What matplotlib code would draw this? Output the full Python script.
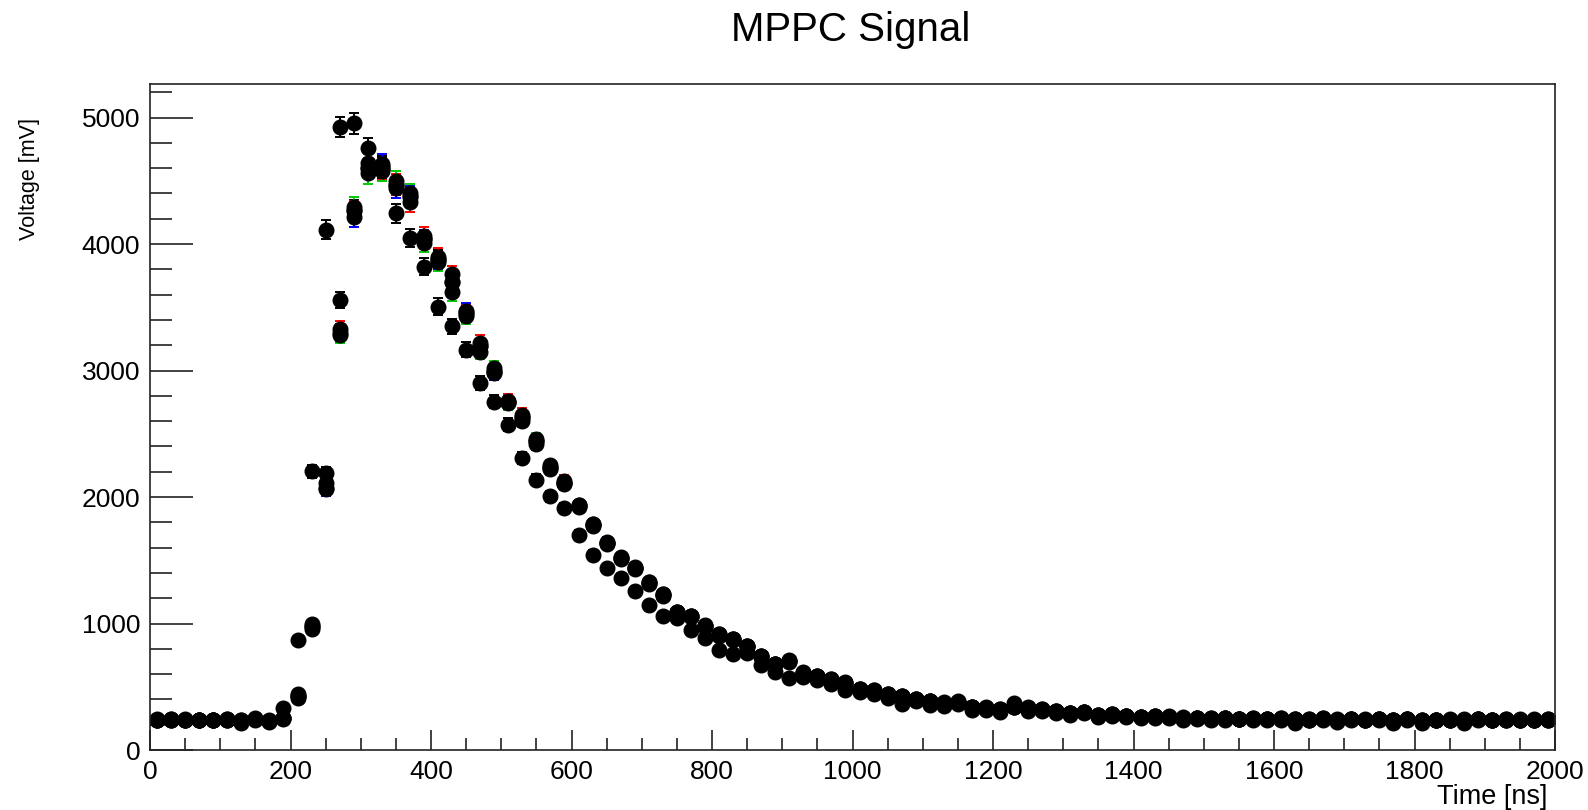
import matplotlib
matplotlib.use("Agg")
import matplotlib.pyplot as plt
from matplotlib.ticker import MultipleLocator

plt.rcParams['font.family'] = ['Liberation Sans', 'DejaVu Sans']

# sampling times [ns]
time_ns = list(range(10, 2000, 20))

# channel voltages [mV]
ch_black = [240, 242, 238, 240, 236, 240, 232, 244, 228, 252,
            425, 978, 2190, 3558, 4270, 4600, 4600, 4470, 4370, 4040,
            3880, 3700, 3450, 3190, 3000, 2755, 2624, 2445, 2240, 2110,
            1930, 1781, 1637, 1518, 1439, 1321, 1228, 1088, 1057, 978,
            912, 878, 820, 741, 680, 701, 610, 585, 557, 531,
            480, 472, 440, 428, 400, 386, 373, 382, 340, 333,
            322, 342, 333, 320, 306, 294, 302, 275, 282, 268,
            260, 266, 264, 256, 255, 250, 252, 246, 250, 246,
            250, 245, 242, 250, 240, 246, 240, 244, 236, 245,
            236, 238, 240, 240, 246, 240, 242, 240, 240, 242]

ch_red = [238, 240, 240, 238, 238, 236, 215, 242, 226, 248,
          440, 1000, 2110, 3330, 4260, 4600, 4590, 4470, 4330, 4060,
          3900, 3760, 3460, 3220, 2990, 2760, 2650, 2440, 2250, 2130,
          1935, 1790, 1640, 1525, 1445, 1330, 1232, 1092, 1060, 985,
          918, 875, 825, 745, 683, 710, 612, 585, 560, 535,
          480, 470, 440, 425, 402, 388, 375, 380, 342, 335,
          320, 340, 336, 322, 308, 296, 300, 276, 280, 266,
          258, 268, 262, 254, 256, 248, 250, 248, 248, 244,
          248, 240, 244, 248, 238, 244, 242, 242, 234, 246,
          232, 236, 238, 236, 244, 240, 240, 238, 242, 240]

ch_green = [242, 238, 242, 240, 236, 240, 235, 246, 230, 254,
            410, 960, 2070, 3280, 4290, 4560, 4580, 4500, 4400, 4010,
            3860, 3620, 3430, 3150, 3020, 2740, 2600, 2460, 2220, 2100,
            1920, 1770, 1630, 1510, 1432, 1315, 1220, 1080, 1050, 972,
            905, 870, 815, 738, 676, 696, 606, 580, 552, 528,
            476, 468, 436, 422, 398, 384, 370, 384, 338, 330,
            318, 344, 330, 318, 304, 292, 304, 272, 284, 270,
            262, 264, 266, 258, 254, 252, 254, 244, 252, 248,
            252, 246, 240, 252, 242, 248, 238, 246, 238, 244,
            238, 240, 242, 242, 248, 238, 244, 242, 238, 244]

ch_blue = [240, 244, 240, 236, 238, 242, 230, 240, 222, 250,
           425, 975, 2060, 3300, 4210, 4640, 4630, 4440, 4380, 4040,
           3870, 3700, 3470, 3190, 2980, 2750, 2630, 2420, 2230, 2110,
           1940, 1785, 1645, 1520, 1440, 1325, 1230, 1090, 1058, 980,
           915, 880, 822, 744, 682, 704, 614, 588, 558, 533,
           482, 474, 442, 430, 401, 387, 376, 381, 342, 336,
           324, 340, 334, 321, 307, 295, 301, 277, 281, 267,
           259, 265, 263, 255, 256, 249, 251, 247, 249, 245,
           249, 244, 241, 249, 239, 245, 241, 243, 235, 244,
           235, 237, 239, 239, 245, 239, 241, 239, 241, 241]

# the early pulse (black only)
ch_early = [240, 240, 240, 240, 240, 245, 238, 250, 240, 330,
            873, 2202, 4111, 4925, 4954, 4756, 4620, 4243, 4046, 3822,
            3506, 3348, 3164, 2900, 2755, 2571, 2308, 2137, 2005, 1913,
            1702, 1544, 1439, 1360, 1254, 1149, 1057, 1040, 952, 886,
            790, 760, 770, 675, 615, 570, 575, 555, 520, 478,
            455, 440, 410, 365, 390, 355, 350, 360, 320, 318,
            300, 370, 310, 310, 290, 280, 290, 262, 270, 258,
            250, 255, 250, 240, 245, 240, 238, 242, 236, 240,
            238, 215, 240, 236, 220, 240, 238, 236, 210, 238,
            215, 236, 238, 215, 240, 236, 238, 240, 236, 240]

# errors [mV]
err_main = [15] * 10 + [22, 28, 50, 65, 78, 82, 82, 80, 78, 72,
                        70, 68, 65, 60, 55, 52, 50, 48, 45, 42,
                        40, 38, 36, 34, 32, 30, 29, 27, 26, 25,
                        24, 23, 22, 21, 20, 20, 19, 19, 18, 18] + [16] * 50
err_early = [15] * 10 + [25, 50, 75, 82, 82, 80, 78, 75, 72, 68,
                         65, 62, 60, 55, 52, 50, 48, 45, 42, 40,
                         38, 35, 33, 32, 30, 28, 27, 26, 25, 24,
                         22, 22, 22, 20, 20, 19, 19, 18, 18, 17] + [15] * 50

fig = plt.figure(figsize=(15.88, 8.10), dpi=100)
ax = fig.add_axes([150 / 1588, 1 - 750 / 810, 1405 / 1588, 666 / 810])

series = [(ch_early, err_early, 'black'),
          (ch_black, err_main, 'black'),
          (ch_red, err_main, '#ff0000'),
          (ch_green, err_main, '#00cc00'),
          (ch_blue, err_main, '#0000ff')]
for vals, errs, col in series:
    ax.errorbar(time_ns, vals, yerr=errs, fmt='o', color=col, ecolor=col,
                mfc='black', mec='black', ms=10.5, elinewidth=1.4,
                capsize=3.5, capthick=1.4)

ax.set_xlim(0, 2000)
ax.set_ylim(0, 5265)
ax.xaxis.set_major_locator(MultipleLocator(200))
ax.xaxis.set_minor_locator(MultipleLocator(50))
ax.yaxis.set_major_locator(MultipleLocator(1000))
ax.yaxis.set_minor_locator(MultipleLocator(200))

ax.tick_params(axis='both', which='both', direction='in', top=False, right=False,
               width=1.2, color='#222222', labelsize=19)
ax.tick_params(axis='y', which='major', length=31, pad=7)
ax.tick_params(axis='y', which='minor', length=15.5)
ax.tick_params(axis='x', which='major', length=14.4, pad=7)
ax.tick_params(axis='x', which='minor', length=8.5)
for sp in ax.spines.values():
    sp.set_linewidth(1.2)
    sp.set_color('#222222')

fig.text(851 / 1588, 1 - 30 / 810, 'MPPC Signal', ha='center', va='center', fontsize=29)
fig.text(30 / 1588, 1 - 118 / 810, 'Voltage [mV]', rotation=90, ha='center', va='top',
         fontsize=15.5)
fig.text(1547 / 1588, 1 - 797 / 810, 'Time [ns]', ha='right', va='center', fontsize=19.5)

fig.savefig('out.png', dpi=100)
